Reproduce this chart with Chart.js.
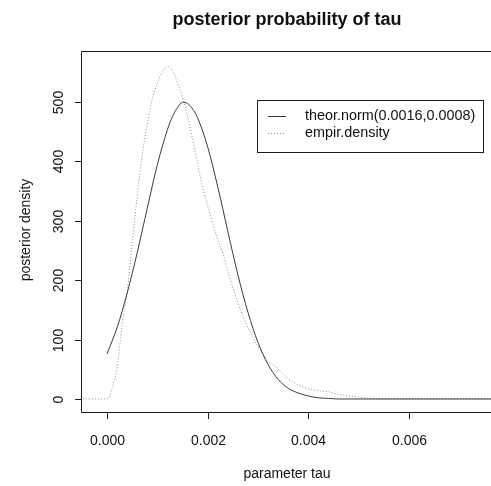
<!DOCTYPE html>
<html>
<head>
<meta charset="utf-8">
<title>posterior probability of tau</title>
<script src="https://cdn.jsdelivr.net/npm/chart.js@4/dist/chart.umd.min.js"></script>
<style>
  html, body { margin: 0; padding: 0; background: #fff; }
  #wrap { width: 491px; height: 486px; }
</style>
</head>
<body>
<div id="wrap"><canvas id="c" width="491" height="486"></canvas></div>
<script>
// Theoretical normal density, sampled on a tau grid
const theorTau = [0, 0.0002, 0.0004, 0.0006, 0.0008, 0.001, 0.0012, 0.0013, 0.0014, 0.0015,
  0.0016, 0.0017, 0.0018, 0.002, 0.0022, 0.0024, 0.0026, 0.0028, 0.003, 0.0032,
  0.0034, 0.0036, 0.0038, 0.004, 0.0042, 0.0044, 0.0046, 0.005, 0.006, 0.007, 0.008];
const theorDensity = [76, 120, 178, 246, 321, 394, 453, 475, 490, 499,
  497, 488, 473, 424, 357, 282, 209, 146, 95, 58,
  33, 18, 10, 5, 2, 1, 0, 0, 0, 0, 0];

// Empirical (kernel) density of the posterior sample
const empirTau = [-0.0006, 0, 0.00005, 0.0001, 0.0002, 0.0003, 0.0004, 0.0005, 0.0006, 0.0007,
  0.0008, 0.0009, 0.001, 0.0011, 0.0012, 0.0013, 0.0014, 0.0015, 0.0016, 0.0017,
  0.0018, 0.0019, 0.002, 0.0021, 0.0022, 0.0023, 0.0024, 0.0025, 0.0026, 0.0027,
  0.0028, 0.0029, 0.003, 0.0031, 0.0032, 0.0033, 0.0034, 0.0035, 0.0036, 0.0037,
  0.0038, 0.0039, 0.004, 0.0042, 0.0044, 0.0046, 0.0048, 0.005, 0.0052, 0.0055, 0.008];
const empirDensity = [0, 0, 5, 18, 52, 125, 180, 262, 342, 410,
  462, 505, 531, 550, 560, 552, 532, 508, 475, 437,
  395, 356, 325, 295, 268, 245, 215, 188, 162, 140,
  120, 103, 88, 75, 64, 58, 50, 41, 34, 28,
  24, 20, 17, 14, 12, 8, 5, 3, 1, 0, 0];

const xTicks = [0, 0.002, 0.004, 0.006];
const xTickLabels = ['0.000', '0.002', '0.004', '0.006'];
const yTicks = [0, 100, 200, 300, 400, 500];
const yTickLabels = ['0', '100', '200', '300', '400', '500'];

const seriesNames = ['theor.norm(0.0016,0.0008)', 'empir.density'];
const chartTitle = 'posterior probability of tau';
const xTitle = 'parameter tau';
const yTitle = 'posterior density';

const FONT = '"Liberation Sans", Arial, sans-serif';

function pairs(xs, ys) { return xs.map((x, i) => ({ x: x, y: ys[i] })); }

// Base-graphics style frame: box, outward ticks, rotated y labels, titles, legend
const frame = {
  id: 'frame',
  afterDraw(chart) {
    const ctx = chart.ctx;
    const a = chart.chartArea;
    const xs = chart.scales.x, ys = chart.scales.y;
    ctx.save();
    ctx.strokeStyle = '#1a1a1a';
    ctx.lineWidth = 1;
    // box (right side falls outside the canvas)
    ctx.beginPath();
    ctx.moveTo(a.right + 5, a.top + 0.5);
    ctx.lineTo(a.left + 0.5, a.top + 0.5);
    ctx.lineTo(a.left + 0.5, a.bottom + 0.5);
    ctx.lineTo(a.right + 5, a.bottom + 0.5);
    ctx.stroke();

    ctx.fillStyle = '#111';
    ctx.font = '14px ' + FONT;
    // x axis ticks and labels
    ctx.textAlign = 'center';
    ctx.textBaseline = 'alphabetic';
    xTicks.forEach((v, i) => {
      const px = Math.round(xs.getPixelForValue(v)) + 0.5;
      ctx.beginPath();
      ctx.moveTo(px, a.bottom);
      ctx.lineTo(px, a.bottom + 7);
      ctx.stroke();
      ctx.fillText(xTickLabels[i], px, 445);
    });
    // y axis ticks and rotated labels
    yTicks.forEach((v, i) => {
      const py = Math.round(ys.getPixelForValue(v)) + 0.5;
      ctx.beginPath();
      ctx.moveTo(a.left - 6, py);
      ctx.lineTo(a.left, py);
      ctx.stroke();
      ctx.save();
      ctx.translate(63, py);
      ctx.rotate(-Math.PI / 2);
      ctx.fillText(yTickLabels[i], 0, 0);
      ctx.restore();
    });
    // axis titles
    ctx.fillText(xTitle, 287, 478);
    ctx.save();
    ctx.translate(30, 230);
    ctx.rotate(-Math.PI / 2);
    ctx.fillText(yTitle, 0, 0);
    ctx.restore();
    // main title
    ctx.font = 'bold 18px ' + FONT;
    ctx.fillText(chartTitle, 287, 25);

    // legend
    const lx = 257.5, ly = 100.5, lw = 226, lh = 52;
    ctx.fillStyle = '#fff';
    ctx.fillRect(lx, ly, lw, lh);
    ctx.strokeStyle = '#1a1a1a';
    ctx.strokeRect(lx, ly, lw, lh);
    ctx.font = '14.4px ' + FONT;
    ctx.textAlign = 'left';
    ctx.textBaseline = 'middle';
    chart.data.datasets.forEach((ds, i) => {
      const yy = 116.5 + i * 17;
      ctx.strokeStyle = ds.borderColor;
      ctx.lineWidth = ds.borderWidth;
      ctx.setLineDash(ds.borderDash || []);
      ctx.beginPath();
      ctx.moveTo(268, yy);
      ctx.lineTo(286, yy);
      ctx.stroke();
      ctx.setLineDash([]);
      ctx.fillStyle = '#111';
      ctx.fillText(ds.label, 305, yy);
    });
    ctx.restore();
  }
};

new Chart(document.getElementById('c'), {
  type: 'line',
  data: {
    datasets: [
      {
        label: seriesNames[0],
        data: pairs(theorTau, theorDensity),
        borderColor: '#3a3a3a',
        borderWidth: 1,
        pointRadius: 0,
        cubicInterpolationMode: 'monotone',
        fill: false
      },
      {
        label: seriesNames[1],
        data: pairs(empirTau, empirDensity),
        borderColor: '#8a8a8a',
        borderWidth: 1,
        borderDash: [1, 2],
        pointRadius: 0,
        cubicInterpolationMode: 'monotone',
        fill: false
      }
    ]
  },
  options: {
    responsive: false,
    animation: false,
    devicePixelRatio: 1,
    layout: { padding: { left: 81, top: 51, right: 0, bottom: 74 } },
    plugins: { legend: { display: false }, title: { display: false }, tooltip: { enabled: false } },
    scales: {
      x: { type: 'linear', min: -0.000517, max: 0.00763, display: false },
      y: { type: 'linear', min: -21.9, max: 585.3, display: false }
    }
  },
  plugins: [frame]
});
</script>
</body>
</html>
